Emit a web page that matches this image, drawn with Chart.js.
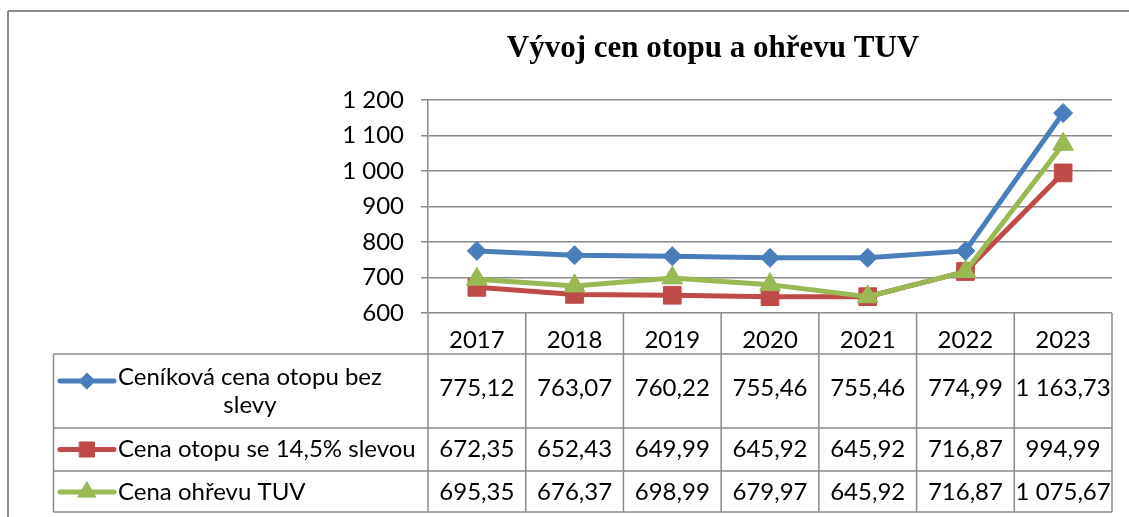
<!DOCTYPE html>
<html><head><meta charset="utf-8">
<script src="https://cdn.jsdelivr.net/npm/chart.js@4.4.0/dist/chart.umd.min.js"></script>
<style>html,body{margin:0;padding:0;background:#fff;overflow:hidden}canvas{display:block}</style>
</head><body>
<canvas id="c" width="1129" height="517" style="width:1129px;height:517px"></canvas>
<script>
// ---- data ----
const years = ['2017', '2018', '2019', '2020', '2021', '2022', '2023'];
const cenikovaCena = [775.12, 763.07, 760.22, 755.46, 755.46, 774.99, 1163.73];
const cenaSeSlevou = [672.35, 652.43, 649.99, 645.92, 645.92, 716.87, 994.99];
const cenaTUV = [695.35, 676.37, 698.99, 679.97, 645.92, 716.87, 1075.67];
const seriesNames = ['Ceníková cena otopu bez slevy', 'Cena otopu se 14,5% slevou', 'Cena ohřevu TUV'];
const legendLines = [['Ceníková cena otopu bez', 'slevy'], ['Cena otopu se 14,5% slevou'], ['Cena ohřevu TUV']];
const titleText = 'Vývoj cen otopu a ohřevu TUV';
const yMin = 600, yMax = 1200, yStep = 100;

// ---- styles ----
const colors = ['#4A7EBB', '#BE4B48', '#98B954'];
const pointStyles = ['rectRot', 'rect', 'triangle'];
const pointRadii = [9.5, 12.5, 12];
const gridColor = '#8A8A8A';
const FONT = 'Lato';
const FS = 24;

function groupInt(s) { return s.replace(/\B(?=(\d{3})+(?!\d))/g, ' '); }
function fmtVal(v) { const p = v.toFixed(2).split('.'); return groupInt(p[0]) + ',' + p[1]; }

const seriesData = [cenikovaCena, cenaSeSlevou, cenaTUV];

const tablePlugin = {
  id: 'dataTable',
  afterDraw(chart) {
    const ctx = chart.ctx, xs = chart.scales.x, area = chart.chartArea;
    const step = xs.getPixelForValue(1) - xs.getPixelForValue(0);
    const left0 = xs.getPixelForValue(0) - step / 2;
    const right = xs.getPixelForValue(years.length - 1) + step / 2;
    const headerTop = area.bottom;
    const hb = xs.bottom;
    const rowsY = [hb, hb + 74, hb + 117, hb + 158];
    const tableLeft = 53.5;
    const line = (x1, y1, x2, y2) => { ctx.beginPath(); ctx.moveTo(x1, y1); ctx.lineTo(x2, y2); ctx.stroke(); };
    ctx.save();
    // outer chart border
    ctx.strokeStyle = '#8C8C8C'; ctx.lineWidth = 2;
    line(8, 11, chart.width, 11);
    line(8, 11, 8, chart.height);
    // table grid
    ctx.strokeStyle = gridColor; ctx.lineWidth = 1.5;
    rowsY.forEach(y => line(tableLeft, y, right, y));
    line(tableLeft, rowsY[0], tableLeft, rowsY[3]);
    for (let i = 0; i <= years.length; i++) {
      const x = left0 + i * step;
      line(x, headerTop, x, rowsY[3]);
    }
    // values
    ctx.fillStyle = '#000';
    ctx.font = FS + 'px ' + FONT;
    ctx.textBaseline = 'middle';
    ctx.textAlign = 'center';
    const rowCenters = [388, 449.5, 492.5];
    const keyY = [381, 449.5, 492];
    seriesData.forEach((arr, r) => {
      arr.forEach((v, i) => {
        ctx.fillText(fmtVal(v), xs.getPixelForValue(i), rowCenters[r]);
      });
    });
    // legend keys + names
    legendLines.forEach((lines, r) => {
      ctx.strokeStyle = colors[r]; ctx.fillStyle = colors[r];
      ctx.lineWidth = 5; ctx.lineCap = 'round';
      line(60, keyY[r], 114, keyY[r]);
      ctx.lineWidth = 1;
      Chart.helpers.drawPoint(ctx, { pointStyle: pointStyles[r], radius: pointRadii[r] * 0.85, rotation: 0, borderWidth: 1 }, 87, keyY[r]);
      ctx.fillStyle = '#000';
      ctx.font = FS + 'px ' + FONT;
      const widths = lines.map(t => ctx.measureText(t).width);
      const w = Math.max(...widths);
      const tx = 118;
      if (lines.length === 1) {
        ctx.textAlign = 'left';
        ctx.fillText(lines[0], tx, rowCenters[r]);
      } else {
        ctx.textAlign = 'center';
        const c = tx + w / 2;
        const mid = (rowsY[r] + rowsY[r + 1]) / 2;
        lines.forEach((t, k) => ctx.fillText(t, c, mid - 14 + 28 * k));
      }
    });
    ctx.restore();
  }
};

new Chart(document.getElementById('c'), {
  type: 'line',
  data: {
    labels: years,
    datasets: seriesData.map((arr, k) => ({
      label: seriesNames[k],
      data: arr,
      borderColor: colors[k],
      backgroundColor: colors[k],
      borderWidth: 5,
      pointStyle: pointStyles[k],
      pointRadius: pointRadii[k],
      pointHoverRadius: pointRadii[k],
      pointBorderWidth: 1,
      pointBackgroundColor: colors[k],
      pointBorderColor: colors[k],
      tension: 0,
      order: 3 - k
    }))
  },
  options: {
    responsive: false,
    animation: false,
    devicePixelRatio: 1,
    layout: { padding: { left: 314, right: 17, top: 0, bottom: 163 } },
    plugins: {
      legend: { display: false },
      tooltip: { enabled: false },
      title: {
        display: true,
        text: titleText,
        color: '#000',
        font: { family: 'Liberation Serif', size: 31, weight: 'bold' },
        padding: { top: 30, bottom: 33 }
      }
    },
    scales: {
      x: {
        type: 'category',
        offset: true,
        grid: { display: false },
        border: { display: false },
        ticks: { color: '#000', font: { family: FONT, size: FS }, padding: 5, maxRotation: 0, autoSkip: false },
        afterFit(s) { s.height = 41; }
      },
      y: {
        min: yMin, max: yMax,
        grid: { color: gridColor, lineWidth: 1.5, tickLength: 7, tickColor: gridColor },
        border: { display: true, color: gridColor, width: 1.5 },
        ticks: {
          stepSize: yStep, color: '#000', padding: 17,
          font: { family: FONT, size: FS },
          callback: v => groupInt(String(v))
        },
        afterFit(s) { s.width = 114; }
      }
    }
  },
  plugins: [tablePlugin]
});
</script>
</body></html>
